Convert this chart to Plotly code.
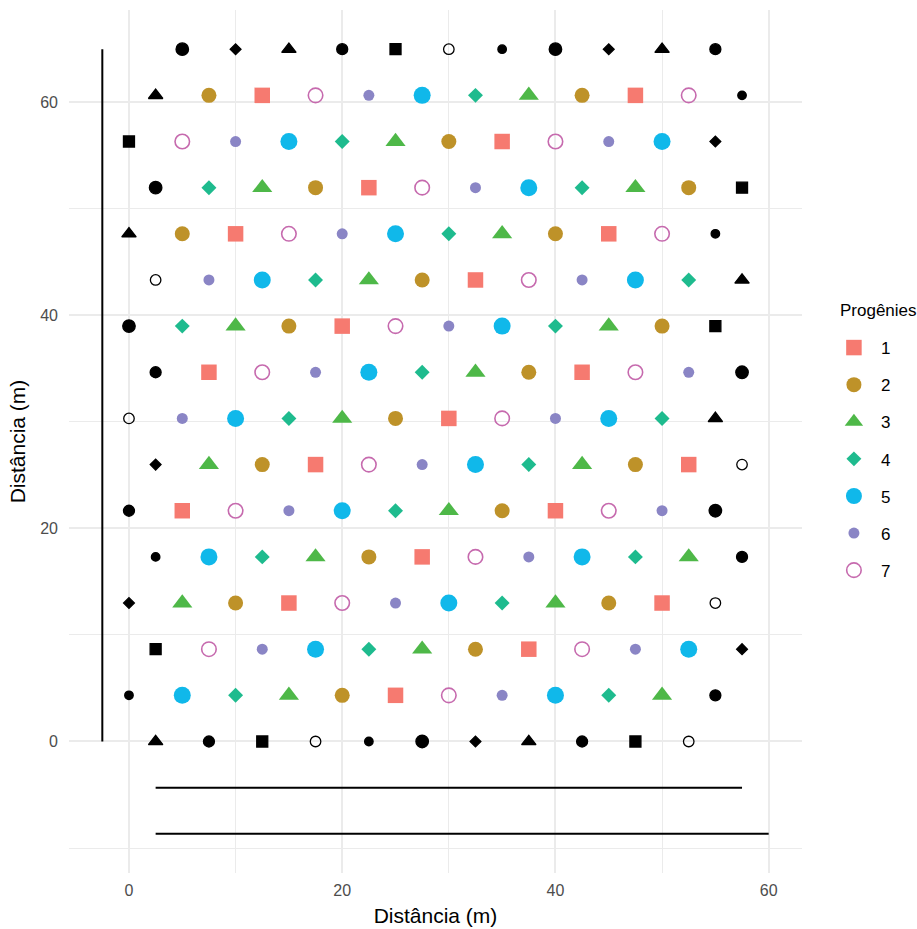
import plotly.graph_objects as go

# Planting layout: one row every 4.33 m, trees 5 m apart within a row.
TREE_SPACING = 5.0
row_y = [0.00, 4.33, 8.66, 12.99, 17.32, 21.65, 25.98, 30.31,
         34.64, 38.97, 43.30, 47.63, 51.96, 56.29, 60.62, 64.95]
row_x0 = [2.5, 0.0, 2.5, 0.0, 2.5, 0.0, 2.5, 0.0,
          2.5, 0.0, 2.5, 0.0, 2.5, 0.0, 2.5, 5.0]
# progeny code of each tree along the row (first/last of inner rows and
# the whole first and last rows are border trees)
row_codes = [
    "32176543217",
    "654321765432",
    "176543217654",
    "432176543217",
    "654321765432",
    "217654321765",
    "432176543217",
    "765432176543",
    "217654321765",
    "543217654321",
    "765432176543",
    "321765432176",
    "543217654321",
    "176543217654",
    "321765432176",
    "54321765432",
]

progenies = ["1", "2", "3", "4", "5", "6", "7"]
colors = ["#F67A70", "#BE9229", "#4EB848", "#1EBB8E", "#10B8EA", "#8A85C5", "#C66AAE"]
symbols = ["square", "circle", "triangle-up", "diamond", "circle", "circle", "circle-open"]
sizes = [15.5, 15, 17.5, 11.5, 17, 11, 14.5]
border_sizes = [11, 11, 12.5, 8.3, 12.5, 8.5, 10.5]

# boundary lines of the trial
vline_x = [-2.5, -2.5]
vline_y = [0.0, 64.95]
hline1_x = [2.5, 57.5]
hline1_y = [-4.33, -4.33]
hline2_x = [2.5, 60.0]
hline2_y = [-8.66, -8.66]

# split trees into plot trees (per progeny) and border trees
plot_pts = {p: ([], []) for p in progenies}
bx, by, bsym, bsize = [], [], [], []
n_rows = len(row_codes)
for r, (y, x0, codes) in enumerate(zip(row_y, row_x0, row_codes)):
    for i, c in enumerate(codes):
        x = x0 + i * TREE_SPACING
        is_border = r == 0 or r == n_rows - 1 or i == 0 or i == len(codes) - 1
        k = progenies.index(c)
        if is_border:
            bx.append(x)
            by.append(y)
            bsym.append(symbols[k])
            bsize.append(border_sizes[k])
        else:
            plot_pts[c][0].append(x)
            plot_pts[c][1].append(y)

fig = go.Figure()

for xs, ys in [(vline_x, vline_y), (hline1_x, hline1_y), (hline2_x, hline2_y)]:
    fig.add_trace(go.Scatter(x=xs, y=ys, mode="lines",
                             line=dict(color="black", width=2),
                             showlegend=False, hoverinfo="skip"))

fig.add_trace(go.Scatter(x=bx, y=by, mode="markers", showlegend=False,
                         marker=dict(color="black", symbol=bsym, size=bsize, opacity=1,
                                     line=dict(color="black", width=1.3))))

for k, p in enumerate(progenies):
    xs, ys = plot_pts[p]
    open_marker = symbols[k].endswith("open")
    fig.add_trace(go.Scatter(
        x=xs, y=ys, mode="markers", name=p, legendgroup=p,
        marker=dict(color=colors[k], symbol=symbols[k], size=sizes[k], opacity=1,
                    line=dict(color=colors[k], width=1.6 if open_marker else 0)),
    ))

grid = "#EBEBEB"
fig.update_layout(
    width=917, height=929,
    margin=dict(l=69, r=115, t=10, b=56, autoexpand=False),
    paper_bgcolor="white", plot_bgcolor="white",
    font=dict(family="Liberation Sans, Arial, sans-serif", color="black"),
    legend=dict(
        font=dict(size=17),
        x=1.034, xanchor="left", y=0.4797, yanchor="middle",
        traceorder="grouped", tracegroupgap=12, itemwidth=44,
    ),
    annotations=[dict(
        text="Progênies", xref="paper", yref="paper", x=1.049, y=0.652,
        xanchor="left", yanchor="middle", showarrow=False, font=dict(size=17),
    )],
    xaxis=dict(
        range=[-5.625, 63.125], tickvals=[0, 20, 40, 60],
        showgrid=True, gridcolor=grid, gridwidth=2,
        minor=dict(tickvals=[10, 30, 50], showgrid=True, gridcolor=grid, gridwidth=1),
        zeroline=False, showline=False, ticks="",
        tickfont=dict(size=16, color="#4D4D4D"), ticklabelstandoff=6,
        title=dict(text="Distância (m)", font=dict(size=21), standoff=10),
    ),
    yaxis=dict(
        range=[-12.34, 68.63], tickvals=[0, 20, 40, 60],
        showgrid=True, gridcolor=grid, gridwidth=2,
        minor=dict(tickvals=[-10, 10, 30, 50], showgrid=True, gridcolor=grid, gridwidth=1),
        zeroline=False, showline=False, ticks="",
        tickfont=dict(size=16, color="#4D4D4D"), ticklabelstandoff=10,
        title=dict(text="Distância (m)", font=dict(size=21), standoff=8),
    ),
)

fig.write_html("out.html")
